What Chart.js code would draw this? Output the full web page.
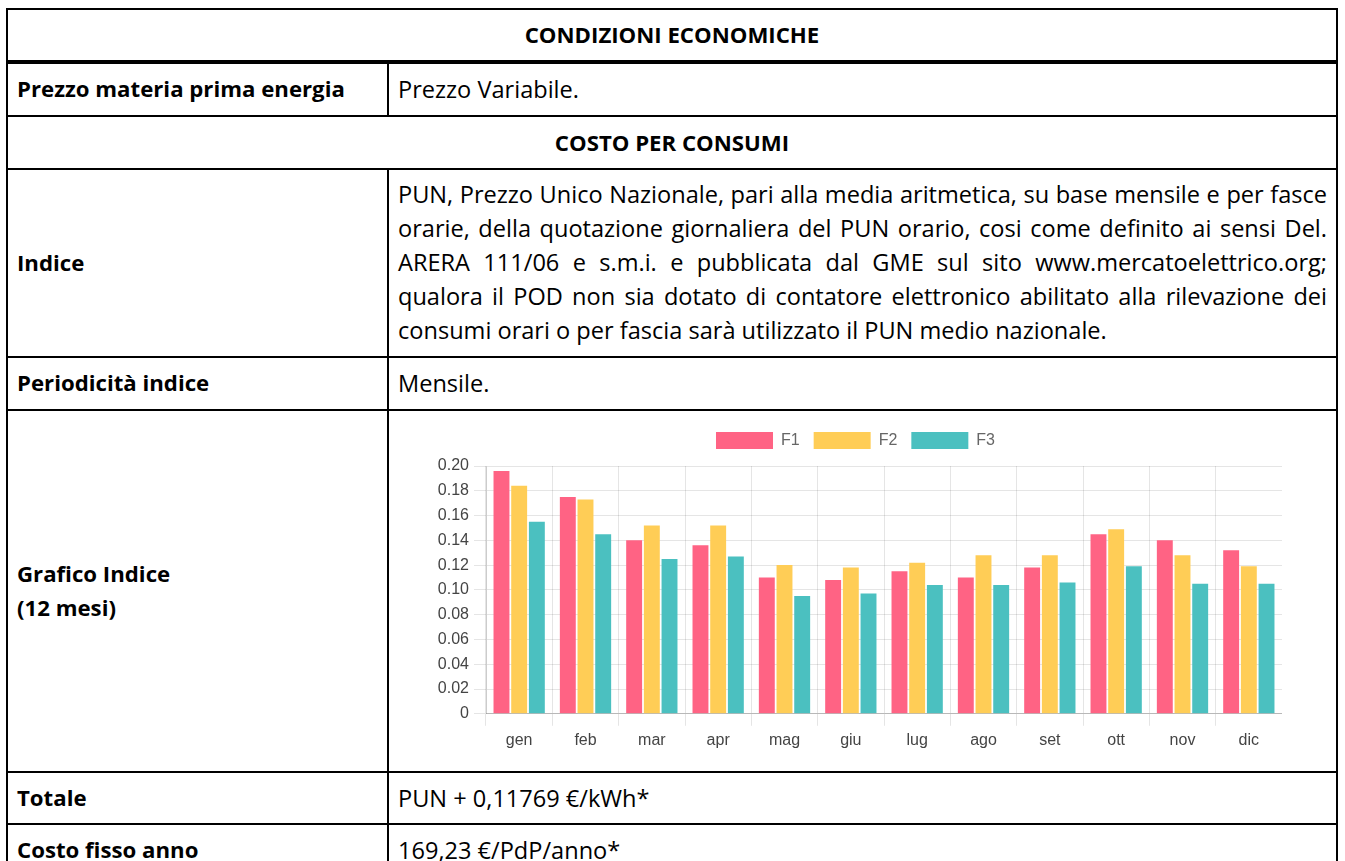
<!DOCTYPE html>
<html lang="it">
<head>
<meta charset="utf-8">
<title>Condizioni economiche</title>
<script src="https://cdn.jsdelivr.net/npm/chart.js@4/dist/chart.umd.min.js"></script>
<style>
  html, body { margin: 0; padding: 0; background: #fff; }
  body { width: 1345px; height: 861px; position: relative; overflow: hidden;
         font-family: "Open Sans", Lato, sans-serif; color: #000;
         --fs: 20px; --fsb: 20px; }
  .ln { position: absolute; background: #000; }
  .t { position: absolute; white-space: nowrap; line-height: 34px; font-size: var(--fs); }
  .b { font-weight: bold; font-size: var(--fsb); }
  .c { text-align: center; }
  .par { position: absolute; left: 398px; width: 929px; line-height: 34px; font-size: var(--fs); }
  .par div { white-space: nowrap; }
  #chartBox { position: absolute; left: 429px; top: 418px; width: 853px; height: 337px; }
</style>
</head>
<body>

<!-- table borders -->
<div class="ln" style="left:6px;top:8px;width:1332px;height:2px"></div>
<div class="ln" style="left:6px;top:60px;width:1332px;height:4px"></div>
<div class="ln" style="left:6px;top:115px;width:1332px;height:2px"></div>
<div class="ln" style="left:6px;top:168px;width:1332px;height:2px"></div>
<div class="ln" style="left:6px;top:356px;width:1332px;height:2px"></div>
<div class="ln" style="left:6px;top:409px;width:1332px;height:2px"></div>
<div class="ln" style="left:6px;top:771px;width:1332px;height:2px"></div>
<div class="ln" style="left:6px;top:823px;width:1332px;height:2px"></div>
<div class="ln" style="left:6px;top:8px;width:2px;height:853px"></div>
<div class="ln" style="left:1336px;top:8px;width:2px;height:853px"></div>
<div class="ln" style="left:387px;top:62px;width:2px;height:54px"></div>
<div class="ln" style="left:387px;top:169px;width:2px;height:692px"></div>

<!-- texts -->
<div class="t b c" style="left:8px;width:1328px;top:18px">CONDIZIONI ECONOMICHE</div>
<div class="t b" style="left:17px;top:72px">Prezzo materia prima energia</div>
<div class="t" style="left:398px;top:72px">Prezzo Variabile.</div>
<div class="t b c" style="left:8px;width:1328px;top:126px">COSTO PER CONSUMI</div>
<div class="t b" style="left:17px;top:246px">Indice</div>
<div class="par" id="par" style="top:177px">
  <div class="j">PUN, Prezzo Unico Nazionale, pari alla media aritmetica, su base mensile e per fasce</div>
  <div class="j">orarie, della quotazione giornaliera del PUN orario, cosi come definito ai sensi Del.</div>
  <div class="j">ARERA 111/06 e s.m.i. e pubblicata dal GME sul sito www.mercatoelettrico.org;</div>
  <div class="j">qualora il POD non sia dotato di contatore elettronico abilitato alla rilevazione dei</div>
  <div>consumi orari o per fascia sarà utilizzato il PUN medio nazionale.</div>
</div>
<div class="t b" style="left:17px;top:366px">Periodicità indice</div>
<div class="t" style="left:398px;top:366px">Mensile.</div>
<div class="t b" style="left:17px;top:557px">Grafico Indice<br>(12 mesi)</div>
<div class="t b" style="left:17px;top:781px">Totale</div>
<div class="t" style="left:398px;top:781px">PUN + 0,11769 €/kWh*</div>
<div class="t b" style="left:17px;top:833px">Costo fisso anno</div>
<div class="t" style="left:398px;top:833px">169,23 €/PdP/anno*</div>

<div id="chartBox"><canvas id="chartIndice"></canvas></div>

<script>
const mesi = ['gen', 'feb', 'mar', 'apr', 'mag', 'giu', 'lug', 'ago', 'set', 'ott', 'nov', 'dic'];

const valoriF1 = [0.196, 0.175, 0.140, 0.136, 0.110, 0.108, 0.115, 0.110, 0.118, 0.145, 0.140, 0.132];
const valoriF2 = [0.184, 0.173, 0.152, 0.152, 0.120, 0.118, 0.122, 0.128, 0.128, 0.149, 0.128, 0.119];
const valoriF3 = [0.155, 0.145, 0.125, 0.127, 0.095, 0.097, 0.104, 0.104, 0.106, 0.119, 0.105, 0.105];

const tickY = ['0', '0.02', '0.04', '0.06', '0.08', '0.10', '0.12', '0.14', '0.16', '0.18', '0.20'];

// --- table text: size the font so a known line has the same width as in the document
const FAMILY = '"Open Sans"';
const measure = document.createElement('canvas').getContext('2d');

function textWidth(txt, weight, size) {
    measure.font = `${weight} ${size}px ${FAMILY}`;
    return measure.measureText(txt).width;
}

const fsReg  = 100 * 709 / textWidth('consumi orari o per fascia sarà utilizzato il PUN medio nazionale.', 'normal', 100);
const fsBold = 100 * 328 / textWidth('Prezzo materia prima energia', 'bold', 100);
document.body.style.setProperty('--fs', fsReg.toFixed(2) + 'px');
document.body.style.setProperty('--fsb', fsBold.toFixed(2) + 'px');

// justify the paragraph lines to the cell width
document.querySelectorAll('#par .j').forEach(el => {
    const txt = el.textContent;
    const spaces = txt.split(' ').length - 1;
    const w = textWidth(txt, 'normal', fsReg);
    el.style.wordSpacing = ((929 - w) / spaces).toFixed(3) + 'px';
});

// --- chart
Chart.defaults.font.family = "Arial, 'Liberation Sans', sans-serif";
Chart.defaults.font.size = 16;
Chart.defaults.color = '#444';

// a bit more room under the legend
const legendGap = {
    id: 'legendGap',
    beforeInit(chart) {
        const fit = chart.legend.fit;
        chart.legend.fit = function () {
            fit.call(this);
            this.height += 7;
        };
    }
};

const gridCol = 'rgba(0,0,0,0.1)';

new Chart(document.getElementById('chartIndice'), {
    type: 'bar',
    data: {
        labels: mesi,
        datasets: [
            { label: 'F1', data: valoriF1, backgroundColor: 'rgb(255,99,132)' },
            { label: 'F2', data: valoriF2, backgroundColor: 'rgb(255,205,86)' },
            { label: 'F3', data: valoriF3, backgroundColor: 'rgb(75,192,192)' }
        ]
    },
    options: {
        responsive: true,
        maintainAspectRatio: false,
        animation: false,
        layout: { padding: 0 },
        plugins: {
            legend: {
                labels: { boxWidth: 57, boxHeight: 17, padding: 14, color: '#666' }
            },
            tooltip: { enabled: false }
        },
        scales: {
            x: {
                grid: {
                    color: ctx => ctx.index >= mesi.length ? 'rgba(0,0,0,0)' : gridCol,
                    tickLength: 12
                },
                border: { color: 'rgba(0,0,0,0.2)' },
                ticks: { padding: 5 }
            },
            y: {
                min: 0,
                max: 0.2,
                grid: { color: gridCol, tickLength: 12 },
                border: { color: 'rgba(0,0,0,0.2)' },
                ticks: {
                    stepSize: 0.02,
                    padding: 5,
                    callback: (v, i) => tickY[i]
                },
                afterFit(scale) { scale.width = 57; }
            }
        }
    },
    plugins: [legendGap]
});
</script>
</body>
</html>
